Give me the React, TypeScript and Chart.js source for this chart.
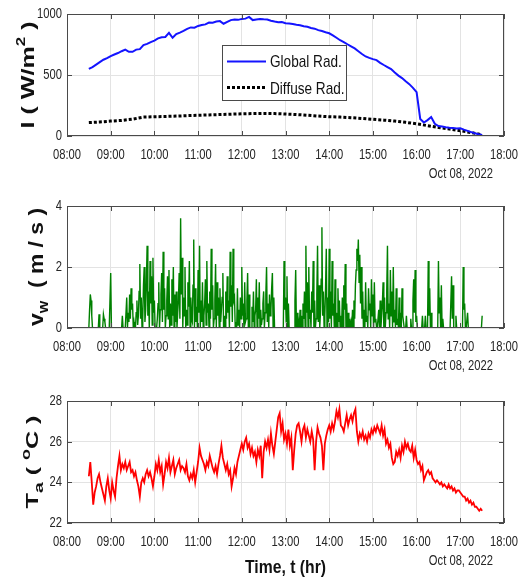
import React, { useEffect, useRef } from "react";
import { Chart, registerables } from "chart.js";
Chart.register(...registerables);

// ---------- time axis (minutes after midnight) ----------
const X_MIN = 480; // 08:00
const X_MAX = 1080; // 18:00
const X_TICKS = [480, 540, 600, 660, 720, 780, 840, 900, 960, 1020, 1080];
const DATE_LABEL = "Oct 08, 2022";

// ---------- radiation (W/m^2) ----------
const GLOBAL_START = 510; // 08:30
const GLOBAL_STEP = 5;
const globalRad = [
  550, 565, 585, 605, 625, 638,
  655, 668, 680, 695, 708, 690,
  690, 708, 712, 745, 755, 770,
  782, 800, 810, 812, 845, 805,
  835, 848, 862, 878, 890, 888,
  902, 910, 915, 930, 928, 938,
  942, 920, 935, 950, 955, 952,
  960, 962, 976, 950, 955, 958,
  956, 955, 945, 938, 932, 935,
  925, 922, 918, 912, 908, 900,
  895, 885, 880, 868, 860, 850,
  842, 825, 805, 785, 770, 752,
  735, 718, 695, 672, 652, 640,
  630, 622, 600, 582, 565, 548,
  520, 495, 475, 448, 425, 395,
  360, 140, 110, 130, 155, 100,
  82, 78, 72, 68, 66, 62,
  63, 52, 42, 32, 22, 14,
  8,
];
const DIFFUSE_START = 510;
const DIFFUSE_STEP = 15;
const diffuseRad = [
  110, 115, 122, 128, 138, 155, 158, 160, 163, 167, 170, 173, 176, 179, 182, 184,
  185, 184, 180, 176, 170, 163, 158, 155, 150, 144, 137, 130, 122, 112, 100, 85,
  70, 57, 43, 28, 10,
];
const RAD_TICKS = [0, 500, 1000];

// ---------- wind speed (m/s), one value per minute from 08:30 ----------
const WIND_START = 510;
const WIND_STEP = 1;
const windSpeed = [
  0, 0.6, 1.1, 0.9, 0.4, 0, 0, 0, 0, 0, 0, 0, 0, 0, 0.45, 0, 0, 0, 0, 0, 0.45, 0.3, 0.2, 0, 0, 0, 0, 0, 0, 0,
  1.8, 0, 0, 0, 0, 0, 0, 0, 0, 0, 0, 0, 0, 0, 0, 0, 0.4, 0, 0, 0, 0, 0, 1.0, 0, 0.5, 0.2, 1.1, 0.3, 1.3, 0.6,
  0.8, 0, 0.2, 0, 0, 0.5, 0.9, 0.1, 0.4, 1.2, 2.1, 0.3, 1.0, 0, 0.3, 1.4, 2.0, 0.2, 0.6, 1.5, 2.7, 0.4, 1.2, 0, 2.2, 0.8, 1.7, 0.1, 2.3, 0.5,
  0.9, 0, 0, 0, 0.3, 0.8, 1.5, 0, 0.6, 1.1, 1.8, 0.2, 2.5, 0.6, 1.3, 0, 0.4, 0.9, 1.7, 0.3, 1.9, 0, 0.8, 0.1, 1.6, 0.4, 2.0, 0, 1.1, 0.2,
  1.2, 0, 0.5, 0.9, 1.8, 0.3, 3.6, 1.1, 2.3, 0, 1.0, 0.4, 2.0, 0, 0.6, 0.1, 1.5, 0.7, 2.2, 0, 1.0, 0.3, 0.2, 1.4, 2.9, 0, 1.3, 0.2, 0.7, 0,
  1.9, 0.5, 2.7, 0, 0.9, 0.2, 1.5, 0, 0.4, 0.8, 1.6, 0.1, 2.2, 0.5, 0.8, 0, 1.2, 0.3, 2.6, 0.6, 1.4, 0, 0.3, 0.9, 2.1, 0, 1.5, 0.4, 1.0, 0,
  1.3, 0.2, 0.6, 1.0, 1.8, 0, 0.4, 0, 1.2, 0.3, 1.7, 0.5, 0.9, 0, 2.5, 0.7, 1.4, 0.2, 2.6, 0.9, 1.0, 0, 0.2, 0, 1.3, 0.1, 0.6, 0, 1.0, 0.3,
  2.0, 0.4, 0.8, 0, 1.5, 0.2, 0.3, 0.9, 1.8, 0, 1.1, 0, 0, 0, 0.7, 0.2, 1.2, 0, 0.4, 0.6, 1.6, 0, 1.0, 0.3, 1.5, 0, 0.6, 0.1, 0.3, 0.8,
  1.2, 0, 0.5, 1.1, 2.0, 0.2, 0.8, 0, 1.1, 0.4, 0.6, 1.3, 1.8, 0, 1.0, 0, 0, 0, 0, 0, 0, 0, 0, 0, 0, 0, 0, 0, 2.2, 0.6,
  1.0, 0.2, 1.7, 0, 0.8, 0, 0, 0, 0, 0, 0, 0, 0, 0.9, 1.9, 0, 0.5, 0, 0.2, 0, 0.6, 0, 0.4, 0, 0.8, 0.3, 1.2, 0, 2.7, 0.5,
  1.5, 0, 2.0, 0.3, 0.6, 0, 1.2, 0.5, 2.2, 0, 0.9, 0, 0.3, 1.1, 2.7, 0.2, 1.4, 0, 0.5, 1.6, 3.3, 0.4, 1.2, 0, 0.4, 1.3, 2.6, 0, 1.0, 0.2,
  2.6, 0.3, 1.2, 0, 2.2, 0.4, 0.8, 0, 1.6, 0, 0.5, 0, 1.3, 0.2, 0.9, 0, 0.4, 0, 1.0, 0, 1.4, 0.6, 2.1, 0, 0.8, 0, 0.5, 0, 0.3, 0,
  0.2, 0, 0.6, 0, 0.9, 0.3, 1.4, 1.9, 2.6, 2.2, 2.9, 1.5, 2.4, 0.8, 2.0, 0.3, 1.2, 0, 0.6, 0, 1.5, 0.2, 0.4, 0, 1.3, 0.6, 0.8, 0, 1.6, 0.4,
  1.1, 0, 1.5, 0.2, 0.3, 0, 0, 0, 0.6, 0, 0.9, 0, 0.4, 0.8, 1.5, 0, 1.0, 0, 0.5, 1.2, 2.7, 0.3, 0.8, 0, 1.9, 0.4, 1.2, 0, 2.0, 0.2,
  0.6, 0, 1.3, 0.1, 0.3, 0, 1.0, 0, 0.5, 0, 1.3, 0.4, 0.2, 0, 0, 0, 0.4, 0, 0, 0, 0, 0, 0.3, 0, 0, 0.9, 1.6, 0.5, 1.9, 0.2,
  0.4, 0, 0, 0, 0, 0, 0, 0, 0.4, 0, 0, 0, 0.4, 0, 0, 0, 2.2, 0.4, 1.3, 0, 0.5, 0, 0, 0, 0, 0, 0, 0, 0, 0,
  2.2, 0.5, 1.0, 0, 1.4, 0, 0.3, 0, 0, 0, 0, 0, 0, 0, 0, 0, 0, 0, 1.7, 0.3, 1.4, 0, 0, 0, 0.4, 0, 0, 0, 0, 0,
  0, 0, 0, 0, 2.0, 0.6, 0.8, 0, 0, 0, 0.5, 0, 0, 0, 0, 0, 0, 0, 0, 0, 0, 0, 0, 0, 0, 0, 0, 0, 0, 0,
  0.4,
];
const WIND_TICKS = [0, 2, 4];

// ---------- ambient temperature (°C) ----------
const TEMP_START = 510;
const TEMP_STEP = 2;
const ambientTemp = [
  24.3, 25.0, 24.0, 22.9, 23.5, 23.8, 24.2, 24.4, 24.0, 23.7, 23.4, 23.1, 23.8, 24.2, 23.6,
  23.2, 24.0, 23.6, 23.3, 24.2, 24.8, 25.3, 24.6, 24.9, 24.7, 25.0, 24.6, 24.8, 25.0, 24.5,
  24.6, 24.3, 24.5, 24.1, 23.8, 23.3, 24.0, 24.2, 24.0, 24.4, 24.6, 24.3, 24.5, 24.2, 23.8,
  24.3, 24.9, 24.6, 25.1, 24.5, 24.8, 23.9, 24.4, 25.0, 24.7, 25.2, 24.5, 24.8, 25.1, 24.4,
  24.7, 24.9, 25.1, 24.6, 24.8, 24.7, 24.5, 24.9, 24.3, 24.1, 24.4, 24.2, 24.6, 24.0, 24.5,
  25.0, 25.7, 25.3, 25.1, 24.9, 24.6, 25.0, 24.8, 25.3, 25.0, 24.7, 24.5, 24.8, 24.4, 24.9,
  25.3, 25.8, 25.2, 24.9, 24.6, 24.9, 24.4, 24.6, 23.8, 24.2, 24.7, 24.4, 25.0, 25.3, 25.6,
  25.9, 25.6, 26.0, 26.2, 25.7, 25.9, 25.4, 25.7, 25.3, 25.5, 25.0, 25.6, 25.3, 25.8, 24.2,
  25.5, 26.0, 25.7, 26.1, 25.6, 26.4, 25.8, 25.4, 26.0, 26.6, 27.2, 27.4, 26.5, 26.9, 26.1,
  26.4, 25.9, 26.6, 25.8, 26.2, 24.6, 25.6, 26.4, 26.8, 26.9, 26.5, 26.0, 26.6, 26.8, 26.2,
  26.6, 26.3, 26.0, 26.5, 26.1, 24.6, 26.0, 26.7, 26.4, 26.2, 25.8, 24.6, 25.9, 26.3, 26.6,
  26.8, 26.5, 26.9, 26.6, 27.0, 27.5, 27.2, 27.6, 26.8, 26.7, 26.5, 26.9, 27.3, 26.8, 27.1,
  27.3, 27.0, 27.4, 27.6, 26.5, 26.0, 26.4, 26.2, 26.5, 26.1, 26.3, 26.0, 26.4, 26.2, 26.6,
  26.4, 26.7, 26.5, 26.8, 26.6, 26.4, 26.8, 26.3, 26.6, 25.9, 26.1, 25.7, 25.9, 25.2, 24.9,
  25.0, 25.5, 25.3, 25.6, 25.2, 25.8, 25.5, 26.0, 25.7, 25.9, 25.6, 25.5, 25.8, 25.2, 25.6,
  25.1, 24.9, 25.0, 24.6, 24.8, 24.1, 24.3, 24.5, 24.6, 24.4, 24.5, 24.2, 24.1, 24.0, 24.1,
  24.0, 23.9, 24.0, 23.8, 23.9, 23.8, 23.7, 23.9, 23.7, 23.8, 23.6, 23.7, 23.5, 23.6, 23.6,
  23.5, 23.4, 23.3, 23.3, 23.1, 23.2, 23.0, 23.1, 22.9, 23.0, 22.8, 22.8, 22.7, 22.6, 22.7,
  22.6,
];
const TEMP_TICKS = [22, 24, 26, 28];

// ---------- styling ----------
const FONT = '"Liberation Sans", Arial, Helvetica, sans-serif';
const SX = 0.8; // horizontal condensing of text
const AXIS_COLOR = "#4a4a4a";
const TEXT_COLOR = "#262626";
const GRID_COLOR = "#e3e3e3";
const W = 523;
const PLOT_LEFT = 67;
const PLOT_RIGHT = 504;

type Part = { t: string; size: number; shift: number };

const toXY = (start: number, step: number, arr: number[]) =>
  arr.map((v, i) => ({ x: start + i * step, y: v }));

const fmtTime = (m: number) =>
  `${String(Math.floor(m / 60)).padStart(2, "0")}:${String(m % 60).padStart(2, "0")}`;

function drawText(
  ctx: CanvasRenderingContext2D,
  s: string,
  x: number,
  y: number,
  font: string,
  align: "left" | "center" | "right",
  color = TEXT_COLOR,
  sx = SX,
  targetWidth?: number
) {
  ctx.save();
  ctx.font = font;
  ctx.fillStyle = color;
  ctx.textAlign = "left";
  ctx.textBaseline = "middle";
  const raw = ctx.measureText(s).width;
  const k = targetWidth ? targetWidth / raw : sx;
  const w = raw * k;
  const x0 = align === "center" ? x - w / 2 : align === "right" ? x - w : x;
  ctx.translate(x0, y);
  ctx.scale(k, 1);
  ctx.fillText(s, 0, 0);
  ctx.restore();
}

function drawVerticalRich(
  ctx: CanvasRenderingContext2D,
  parts: Part[],
  baseX: number,
  cy: number,
  targetLen: number
) {
  ctx.save();
  ctx.fillStyle = "#111";
  ctx.textAlign = "left";
  ctx.textBaseline = "alphabetic";
  const widths = parts.map((p) => {
    ctx.font = `bold ${p.size}px ${FONT}`;
    return ctx.measureText(p.t).width;
  });
  const total = widths.reduce((a, b) => a + b, 0);
  ctx.translate(baseX, cy);
  ctx.rotate(-Math.PI / 2);
  ctx.scale(targetLen / total, 1);
  let x = -total / 2;
  parts.forEach((p, i) => {
    ctx.font = `bold ${p.size}px ${FONT}`;
    ctx.fillText(p.t, x, -p.shift);
    x += widths[i];
  });
  ctx.restore();
}

interface PanelCfg {
  key: string;
  top: number;
  height: number;
  areaTop: number;
  areaBottom: number;
  yMin: number;
  yMax: number;
  yStep: number;
  yTicks: number[];
  datasets: any[];
  title: Part[];
  titleX: number;
  titleLen: number;
  legend?: boolean;
  xTitle?: boolean;
}

function makePlugin(p: PanelCfg) {
  return {
    id: "matlabAxes_" + p.key,
    afterDraw(chart: any) {
      const ctx: CanvasRenderingContext2D = chart.ctx;
      const a = chart.chartArea;
      const xs = chart.scales.x;
      const ys = chart.scales.y;
      const L = Math.round(a.left);
      const R = Math.round(a.right);
      const T = Math.round(a.top);
      const B = Math.round(a.bottom);
      ctx.save();
      ctx.strokeStyle = AXIS_COLOR;
      ctx.lineWidth = 1;
      ctx.strokeRect(L + 0.5, T + 0.5, R - L - 1, B - T - 1);
      const TL = 5;
      ctx.beginPath();
      X_TICKS.forEach((v) => {
        const px = Math.round(xs.getPixelForValue(v)) + 0.5;
        ctx.moveTo(px, B);
        ctx.lineTo(px, B - TL);
        ctx.moveTo(px, T);
        ctx.lineTo(px, T + TL);
      });
      p.yTicks.forEach((v) => {
        const py = Math.round(ys.getPixelForValue(v)) + 0.5;
        ctx.moveTo(L, py);
        ctx.lineTo(L + TL, py);
        ctx.moveTo(R, py);
        ctx.lineTo(R - TL, py);
      });
      ctx.stroke();
      ctx.restore();

      const tickFont = `14px ${FONT}`;
      X_TICKS.forEach((v) => {
        drawText(ctx, fmtTime(v), xs.getPixelForValue(v), B + 19, tickFont, "center");
      });
      p.yTicks.forEach((v) => {
        drawText(ctx, String(v), L - 5, ys.getPixelForValue(v), tickFont, "right");
      });
      drawText(ctx, DATE_LABEL, 493, B + 38, tickFont, "right");

      drawVerticalRich(ctx, p.title, p.titleX, (T + B) / 2, p.titleLen);

      if (p.xTitle) {
        drawText(ctx, "Time, t (hr)", (L + R) / 2, B + 45, `bold 19px ${FONT}`, "center", "#111", SX, 81);
      }

      if (p.legend) {
        const lx = 222, ly = 45, lw = 125, lh = 56;
        ctx.save();
        ctx.fillStyle = "#ffffff";
        ctx.fillRect(lx, ly, lw, lh);
        ctx.strokeStyle = AXIS_COLOR;
        ctx.lineWidth = 1;
        ctx.strokeRect(lx + 0.5, ly + 0.5, lw - 1, lh - 1);
        const ds0 = chart.data.datasets[0];
        const ds1 = chart.data.datasets[1];
        ctx.strokeStyle = ds0.borderColor;
        ctx.lineWidth = ds0.borderWidth;
        ctx.beginPath();
        ctx.moveTo(227, 61.5);
        ctx.lineTo(266, 61.5);
        ctx.stroke();
        ctx.strokeStyle = ds1.borderColor;
        ctx.lineWidth = ds1.borderWidth;
        ctx.setLineDash(ds1.borderDash);
        ctx.beginPath();
        ctx.moveTo(227, 87.5);
        ctx.lineTo(266, 87.5);
        ctx.stroke();
        ctx.restore();
        drawText(ctx, ds0.label, 270, 62, `17px ${FONT}`, "left", "#111");
        drawText(ctx, ds1.label, 270, 89, `17px ${FONT}`, "left", "#111");
      }
    },
  };
}

const PANELS: PanelCfg[] = [
  {
    key: "rad",
    top: 0,
    height: 190,
    areaTop: 14,
    areaBottom: 136,
    yMin: 0,
    yMax: 1000,
    yStep: 500,
    yTicks: RAD_TICKS,
    datasets: [
      {
        label: "Global Rad.",
        data: toXY(GLOBAL_START, GLOBAL_STEP, globalRad),
        borderColor: "#1414ff",
        borderWidth: 2,
      },
      {
        label: "Diffuse Rad.",
        data: toXY(DIFFUSE_START, DIFFUSE_STEP, diffuseRad),
        borderColor: "#000000",
        borderWidth: 3,
        borderDash: [3, 2],
      },
    ],
    title: [
      { t: "I ( W/m", size: 18, shift: 0 },
      { t: "2", size: 12, shift: 9 },
      { t: " )", size: 18, shift: 0 },
    ],
    titleX: 34,
    titleLen: 107,
    legend: true,
  },
  {
    key: "wind",
    top: 190,
    height: 195,
    areaTop: 16,
    areaBottom: 138,
    yMin: 0,
    yMax: 4,
    yStep: 2,
    yTicks: WIND_TICKS,
    datasets: [
      {
        label: "v_w",
        data: toXY(WIND_START, WIND_STEP, windSpeed),
        borderColor: "#008000",
        borderWidth: 1.4,
      },
    ],
    title: [
      { t: "v", size: 20, shift: 0 },
      { t: "w", size: 14, shift: -5 },
      { t: "  ( m / s )", size: 20, shift: 0 },
    ],
    titleX: 43,
    titleLen: 118,
  },
  {
    key: "temp",
    top: 385,
    height: 196,
    areaTop: 16,
    areaBottom: 138,
    yMin: 22,
    yMax: 28,
    yStep: 2,
    yTicks: TEMP_TICKS,
    datasets: [
      {
        label: "T_a",
        data: toXY(TEMP_START, TEMP_STEP, ambientTemp),
        borderColor: "#ff0000",
        borderWidth: 1.8,
      },
    ],
    title: [
      { t: "T", size: 17, shift: 0 },
      { t: "a", size: 13, shift: -5 },
      { t: " ( ", size: 17, shift: 0 },
      { t: "o", size: 12, shift: 8 },
      { t: "C )", size: 17, shift: 0 },
    ],
    titleX: 38,
    titleLen: 93,
    xTitle: true,
  },
];

function Panel({ cfg }: { cfg: PanelCfg }) {
  const ref = useRef<HTMLCanvasElement | null>(null);
  useEffect(() => {
    if (!ref.current) return;
    const chart = new Chart(ref.current, {
      type: "line",
      data: {
        datasets: cfg.datasets.map((d) => ({
          ...d,
          pointRadius: 0,
          tension: 0,
          fill: false,
          spanGaps: true,
        })),
      },
      options: {
        responsive: false,
        animation: false,
        devicePixelRatio: 1,
        layout: {
          padding: { left: 0, right: W - PLOT_RIGHT, top: cfg.areaTop, bottom: 0 },
        },
        plugins: {
          legend: { display: false },
          tooltip: { enabled: false },
        },
        scales: {
          x: {
            type: "linear",
            min: X_MIN,
            max: X_MAX,
            ticks: { stepSize: 60, display: false },
            grid: { color: GRID_COLOR, drawTicks: false, lineWidth: 1 },
            border: { display: false },
            afterFit: (s: any) => {
              s.height = cfg.height - cfg.areaBottom;
            },
          },
          y: {
            type: "linear",
            min: cfg.yMin,
            max: cfg.yMax,
            ticks: { stepSize: cfg.yStep, display: false },
            grid: { color: GRID_COLOR, drawTicks: false, lineWidth: 1 },
            border: { display: false },
            afterFit: (s: any) => {
              s.width = PLOT_LEFT;
            },
          },
        },
      } as any,
      plugins: [makePlugin(cfg)],
    });
    return () => chart.destroy();
  }, [cfg]);
  return (
    <canvas
      ref={ref}
      width={W}
      height={cfg.height}
      style={{ position: "absolute", left: 0, top: cfg.top, display: "block" }}
    />
  );
}

export default function App() {
  return (
    <div
      style={{
        position: "fixed",
        left: 0,
        top: 0,
        width: W,
        height: 581,
        background: "#ffffff",
        overflow: "hidden",
      }}
    >
      {PANELS.map((p) => (
        <Panel key={p.key} cfg={p} />
      ))}
    </div>
  );
}
